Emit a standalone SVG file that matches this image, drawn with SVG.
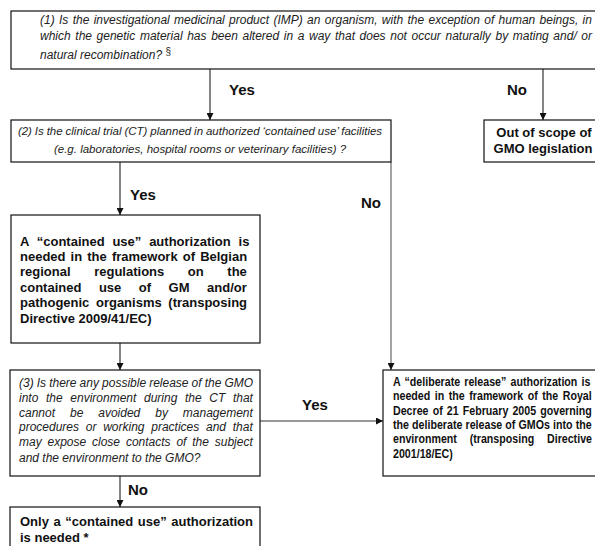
<svg xmlns="http://www.w3.org/2000/svg" width="595" height="546" viewBox="0 0 595 546">
<style>
.box{fill:#fff;stroke:#111;stroke-width:1.2}
.q{font-family:"Liberation Sans",Arial,sans-serif;font-style:italic;font-size:12px;fill:#222}
.q2{font-family:"Liberation Sans",Arial,sans-serif;font-style:italic;font-size:11.5px;fill:#222}
.b{font-family:"Liberation Sans",Arial,sans-serif;font-weight:bold;font-size:13px;fill:#111}
.lbl{font-family:"Liberation Sans",Arial,sans-serif;font-weight:bold;font-size:15px;fill:#111}
.c{stroke:#333;stroke-width:1.2;fill:none;marker-end:url(#ah)}
</style>
<defs>
<marker id="ah" viewBox="0 0 8 8" refX="8" refY="4" markerWidth="7" markerHeight="7" markerUnits="userSpaceOnUse" orient="auto">
<path d="M0,0 L8,4 L0,8 z" fill="#111"/>
</marker>
</defs>
<rect width="595" height="546" fill="#fff"/>
<g id="connectors">
<line class="c" x1="210" y1="69" x2="210" y2="120"/>
<line class="c" x1="543" y1="69" x2="543" y2="120"/>
<line class="c" x1="120" y1="162" x2="120" y2="215"/>
<line class="c" x1="391" y1="162" x2="391" y2="370" style="stroke:#666"/>
<line class="c" x1="120" y1="343" x2="120" y2="370"/>
<line class="c" x1="260" y1="421" x2="383" y2="421"/>
<line class="c" x1="120" y1="476" x2="120" y2="507"/>
<text class="lbl" x="229" y="95">Yes</text>
<text class="lbl" x="507" y="95">No</text>
<text class="lbl" x="130" y="200">Yes</text>
<text class="lbl" x="361" y="208">No</text>
<text class="lbl" x="302" y="410">Yes</text>
<text class="lbl" x="128" y="495">No</text>
</g>
<g id="q1">
<rect class="box" x="11" y="11" width="600" height="58"/>
<text class="q" x="40" y="24" word-spacing="1">(1) Is the investigational medicinal product (IMP) an organism, with the exception of human beings, in</text>
<text class="q" x="40" y="40" word-spacing="1.28">which the genetic material has been altered in a way that does not occur naturally by mating and/ or</text>
<text class="q" x="40" y="59">natural recombination? <tspan style="font-style:normal;font-size:10px" dy="-4">§</tspan></text>
</g>
<g id="q2">
<rect class="box" x="11" y="120" width="380" height="42"/>
<text class="q2" x="200" y="135" text-anchor="middle" word-spacing="-0.3">(2) Is the clinical trial (CT) planned in authorized ‘contained use’ facilities</text>
<text class="q2" x="200" y="153" text-anchor="middle">(e.g. laboratories, hospital rooms or veterinary facilities) ?</text>
</g>
<g id="out-of-scope">
<rect class="box" x="484" y="120" width="130" height="42"/>
<text class="b" x="544" y="137" text-anchor="middle">Out of scope of</text>
<text class="b" x="543" y="153" text-anchor="middle">GMO legislation</text>
</g>
<g id="contained-use">
<rect class="box" x="11" y="215" width="249" height="128"/>
<text class="b" x="20" y="246" word-spacing="4.2">A “contained use” authorization is</text>
<text class="b" x="20" y="261" word-spacing="1.5">needed in the framework of Belgian</text>
<text class="b" x="20" y="276" word-spacing="20">regional regulations on the</text>
<text class="b" x="20" y="292" word-spacing="13.9">contained use of GM and/or</text>
<text class="b" x="20" y="307" word-spacing="3">pathogenic organisms (transposing</text>
<text class="b" x="20" y="323">Directive 2009/41/EC)</text>
</g>
<g id="q3">
<rect class="box" x="10" y="370" width="250" height="106"/>
<text class="q" x="19" y="387" word-spacing="-0.25">(3) Is there any possible release of the GMO</text>
<text class="q" x="19" y="402" word-spacing="4.3">into the environment during the CT that</text>
<text class="q" x="19" y="417" word-spacing="11.6">cannot be avoided by management</text>
<text class="q" x="19" y="431" word-spacing="3.4">procedures or working practices and that</text>
<text class="q" x="19" y="446" word-spacing="2.5">may expose close contacts of the subject</text>
<text class="q" x="19" y="462">and the environment to the GMO?</text>
</g>
<g id="deliberate-release">
<rect class="box" x="383" y="370" width="230" height="106"/>
<g transform="translate(393,0) scale(0.82,1)">
<text class="b" x="0" y="386" word-spacing="1.5">A “deliberate release” authorization is</text>
<text class="b" x="0" y="400" word-spacing="1.9">needed in the framework of the Royal</text>
<text class="b" x="0" y="415" word-spacing="1.4">Decree of 21 February 2005 governing</text>
<text class="b" x="0" y="429" word-spacing="0.2">the deliberate release of GMOs into the</text>
<text class="b" x="0" y="443" word-spacing="12">environment (transposing Directive</text>
<text class="b" x="0" y="458">2001/18/EC)</text>
</g>
</g>
<g id="contained-only">
<rect class="box" x="10" y="507" width="250" height="60"/>
<text class="b" x="20" y="526" word-spacing="1">Only a “contained use” authorization</text>
<text class="b" x="20" y="542">is needed *</text>
</g>
</svg>
